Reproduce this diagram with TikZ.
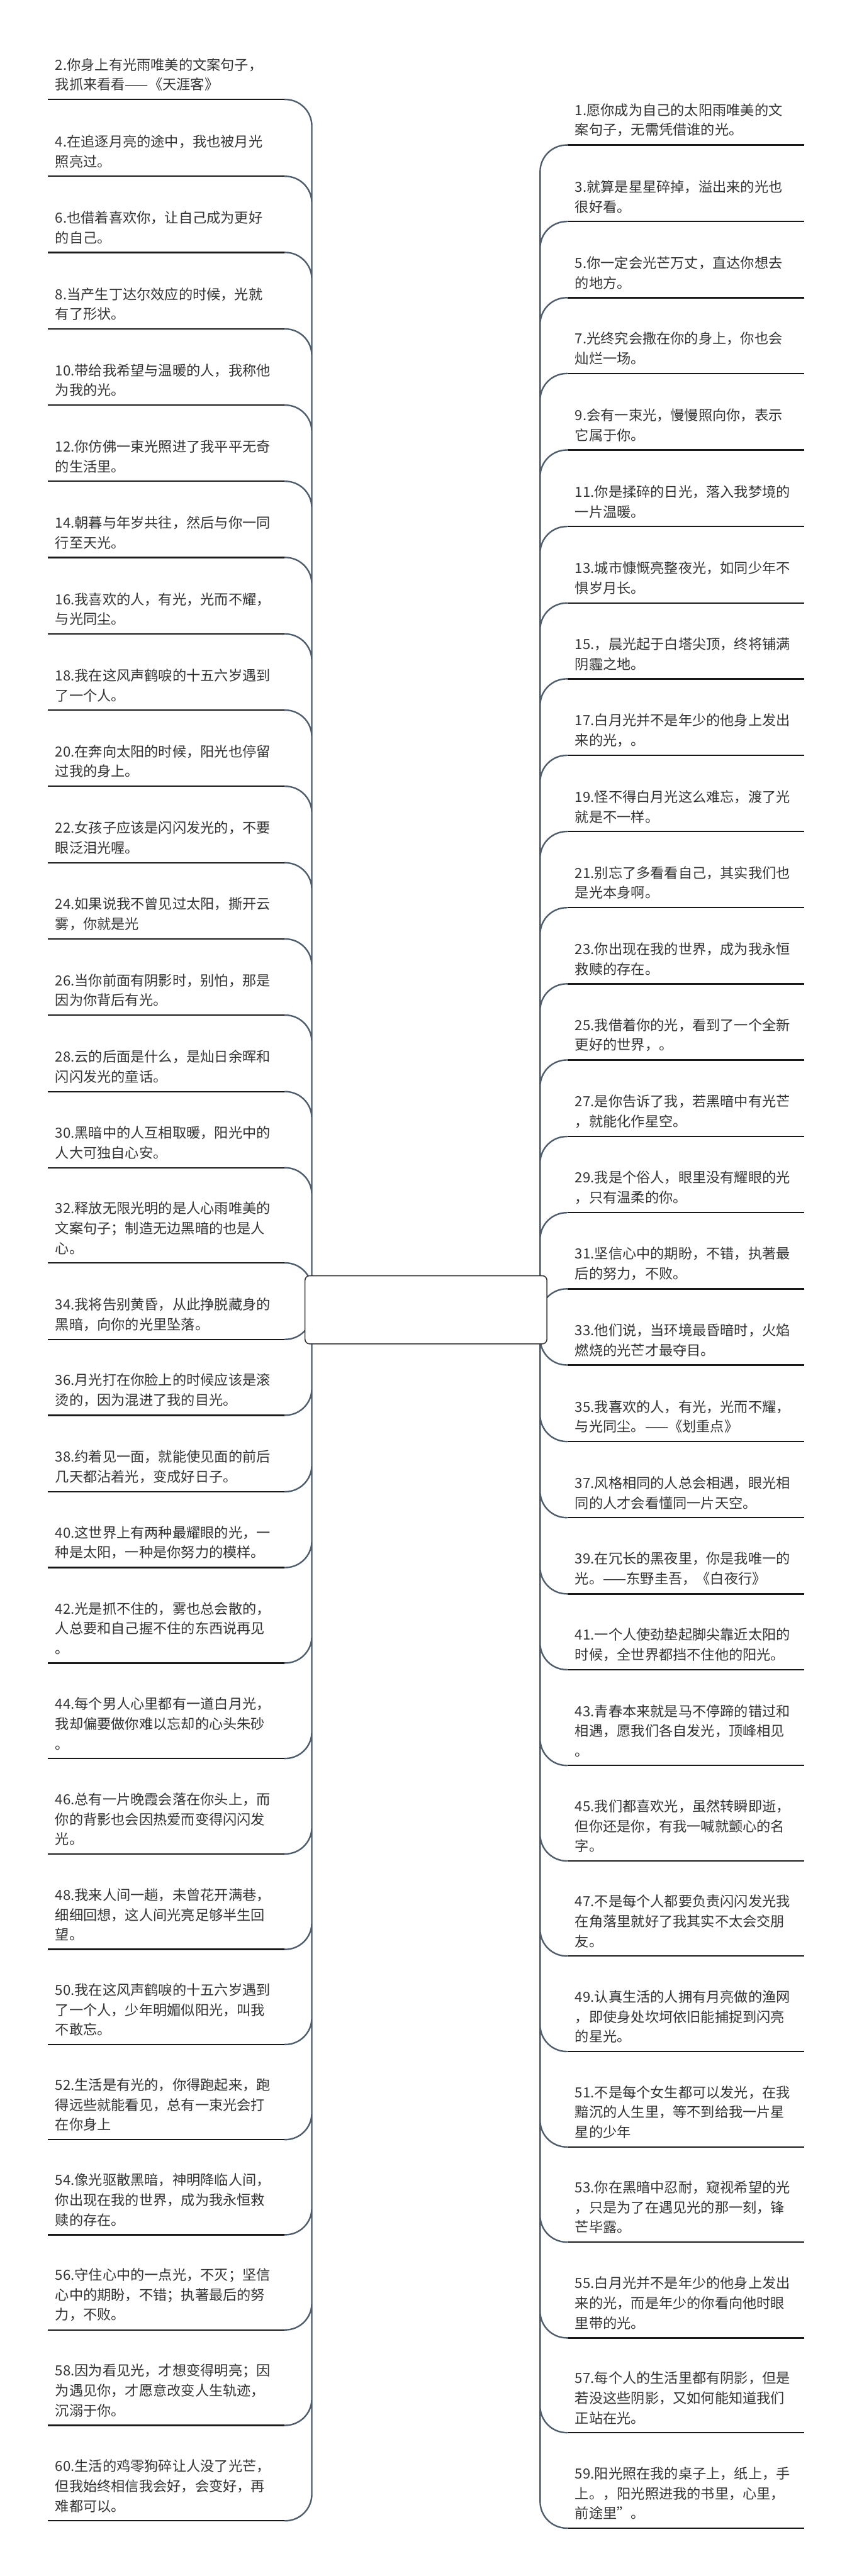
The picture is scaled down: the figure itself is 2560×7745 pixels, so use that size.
\documentclass[tikz,border=0pt]{standalone}
\usepackage{fontspec}
\setmainfont{Noto Sans CJK SC}
\usetikzlibrary{positioning}
\definecolor{linkgray}{HTML}{4E5D6C}
\definecolor{textgray}{HTML}{333333}

\begin{document}
\begin{tikzpicture}[x=1pt, y=-1pt,
    item/.style={anchor=south west, text width=665pt, align=left,
        inner xsep=23pt, inner ysep=25pt, text=textgray,
        font=\fontsize{42}{60}\selectfont},
    uline/.style={line width=4.5pt, draw=black!90},
    link/.style={line width=4.5pt, draw=linkgray, rounded corners=80pt},
    rootbox/.style={draw=textgray, line width=3pt, fill=white, rounded corners=14pt,
        minimum width=727pt, minimum height=205pt}]
                                        \fill[white] (0,0) rectangle (2560,7745);
                                        \useasboundingbox (0,0) rectangle (2560,7745);

                                        % left column
                                        \node[item] (l2) at (143, 299) {2.你身上有光雨唯美的文案句子，\\我抓来看看——《天涯客》};
                                        \node[item] (l4) at (143, 530) {4.在追逐月亮的途中，我也被月光\\照亮过。};
                                        \node[item] (l6) at (143, 759) {6.也借着喜欢你，让自己成为更好\\的自己。};
                                        \node[item] (l8) at (143, 989) {8.当产生丁达尔效应的时候，光就\\有了形状。};
                                        \node[item] (l10) at (143, 1218) {10.带给我希望与温暖的人，我称他\\为我的光。};
                                        \node[item] (l12) at (143, 1447) {12.你仿佛一束光照进了我平平无奇\\的生活里。};
                                        \node[item] (l14) at (143, 1676) {14.朝暮与年岁共往，然后与你一同\\行至天光。};
                                        \node[item] (l16) at (143, 1906) {16.我喜欢的人，有光，光而不耀，\\与光同尘。};
                                        \node[item] (l18) at (143, 2135) {18.我在这风声鹤唳的十五六岁遇到\\了一个人。};
                                        \node[item] (l20) at (143, 2364) {20.在奔向太阳的时候，阳光也停留\\过我的身上。};
                                        \node[item] (l22) at (143, 2594) {22.女孩子应该是闪闪发光的，不要\\眼泛泪光喔。};
                                        \node[item] (l24) at (143, 2823) {24.如果说我不曾见过太阳，撕开云\\雾，你就是光};
                                        \node[item] (l26) at (143, 3052) {26.当你前面有阴影时，别怕，那是\\因为你背后有光。};
                                        \node[item] (l28) at (143, 3282) {28.云的后面是什么，是灿日余晖和\\闪闪发光的童话。};
                                        \node[item] (l30) at (143, 3511) {30.黑暗中的人互相取暖，阳光中的\\人大可独自心安。};
                                        \node[item] (l32) at (143, 3797) {32.释放无限光明的是人心雨唯美的\\文案句子；制造无边黑暗的也是人\\心。};
                                        \node[item] (l34) at (143, 4027) {34.我将告别黄昏，从此挣脱藏身的\\黑暗，向你的光里坠落。};
                                        \node[item] (l36) at (143, 4255) {36.月光打在你脸上的时候应该是滚\\烫的，因为混进了我的目光。};
                                        \node[item] (l38) at (143, 4485) {38.约着见一面，就能使见面的前后\\几天都沾着光，变成好日子。};
                                        \node[item] (l40) at (143, 4713) {40.这世界上有两种最耀眼的光，一\\种是太阳，一种是你努力的模样。};
                                        \node[item] (l42) at (143, 5000) {42.光是抓不住的，雾也总会散的，\\人总要和自己握不住的东西说再见\\。};
                                        \node[item] (l44) at (143, 5287) {44.每个男人心里都有一道白月光，\\我却偏要做你难以忘却的心头朱砂\\。};
                                        \node[item] (l46) at (143, 5574) {46.总有一片晚霞会落在你头上，而\\你的背影也会因热爱而变得闪闪发\\光。};
                                        \node[item] (l48) at (143, 5861) {48.我来人间一趟，未曾花开满巷，\\细细回想，这人间光亮足够半生回\\望。};
                                        \node[item] (l50) at (143, 6147) {50.我在这风声鹤唳的十五六岁遇到\\了一个人，少年明媚似阳光，叫我\\不敢忘。};
                                        \node[item] (l52) at (143, 6433) {52.生活是有光的，你得跑起来，跑\\得远些就能看见，总有一束光会打\\在你身上};
                                        \node[item] (l54) at (143, 6719) {54.像光驱散黑暗，神明降临人间，\\你出现在我的世界，成为我永恒救\\赎的存在。};
                                        \node[item] (l56) at (143, 7005) {56.守住心中的一点光，不灭；坚信\\心中的期盼，不错；执著最后的努\\力，不败。};
                                        \node[item] (l58) at (143, 7292) {58.因为看见光，才想变得明亮；因\\为遇见你，才愿意改变人生轨迹，\\沉溺于你。};
                                        \node[item] (l60) at (143, 7579) {60.生活的鸡零狗碎让人没了光芒，\\但我始终相信我会好，会变好，再\\难都可以。};

                                        % right column
                                        \node[item] (r1) at (1705, 436) {1.愿你成为自己的太阳雨唯美的文\\案句子，无需凭借谁的光。};
                                        \node[item] (r3) at (1705, 666) {3.就算是星星碎掉，溢出来的光也\\很好看。};
                                        \node[item] (r5) at (1705, 895) {5.你一定会光芒万丈，直达你想去\\的地方。};
                                        \node[item] (r7) at (1705, 1123) {7.光终究会撒在你的身上，你也会\\灿烂一场。};
                                        \node[item] (r9) at (1705, 1353) {9.会有一束光，慢慢照向你，表示\\它属于你。};
                                        \node[item] (r11) at (1705, 1583) {11.你是揉碎的日光，落入我梦境的\\一片温暖。};
                                        \node[item] (r13) at (1705, 1813) {13.城市慷慨亮整夜光，如同少年不\\惧岁月长。};
                                        \node[item] (r15) at (1705, 2041) {15.，晨光起于白塔尖顶，终将铺满\\阴霾之地。};
                                        \node[item] (r17) at (1705, 2271) {17.白月光并不是年少的他身上发出\\来的光，。};
                                        \node[item] (r19) at (1705, 2500) {19.怪不得白月光这么难忘，渡了光\\就是不一样。};
                                        \node[item] (r21) at (1705, 2729) {21.别忘了多看看自己，其实我们也\\是光本身啊。};
                                        \node[item] (r23) at (1705, 2958) {23.你出现在我的世界，成为我永恒\\救赎的存在。};
                                        \node[item] (r25) at (1705, 3187) {25.我借着你的光，看到了一个全新\\更好的世界，。};
                                        \node[item] (r27) at (1705, 3417) {27.是你告诉了我，若黑暗中有光芒\\，就能化作星空。};
                                        \node[item] (r29) at (1705, 3646) {29.我是个俗人，眼里没有耀眼的光\\，只有温柔的你。};
                                        \node[item] (r31) at (1705, 3875) {31.坚信心中的期盼，不错，执著最\\后的努力，不败。};
                                        \node[item] (r33) at (1705, 4104) {33.他们说，当环境最昏暗时，火焰\\燃烧的光芒才最夺目。};
                                        \node[item] (r35) at (1705, 4334) {35.我喜欢的人，有光，光而不耀，\\与光同尘。——《划重点》};
                                        \node[item] (r37) at (1705, 4563) {37.风格相同的人总会相遇，眼光相\\同的人才会看懂同一片天空。};
                                        \node[item] (r39) at (1705, 4792) {39.在冗长的黑夜里，你是我唯一的\\光。——东野圭吾，《白夜行》};
                                        \node[item] (r41) at (1705, 5020) {41.一个人使劲垫起脚尖靠近太阳的\\时候，全世界都挡不住他的阳光。};
                                        \node[item] (r43) at (1705, 5308) {43.青春本来就是马不停蹄的错过和\\相遇，愿我们各自发光，顶峰相见\\。};
                                        \node[item] (r45) at (1705, 5595) {45.我们都喜欢光，虽然转瞬即逝，\\但你还是你，有我一喊就颤心的名\\字。};
                                        \node[item] (r47) at (1705, 5881) {47.不是每个人都要负责闪闪发光我\\在角落里就好了我其实不太会交朋\\友。};
                                        \node[item] (r49) at (1705, 6168) {49.认真生活的人拥有月亮做的渔网\\，即使身处坎坷依旧能捕捉到闪亮\\的星光。};
                                        \node[item] (r51) at (1705, 6455) {51.不是每个女生都可以发光，在我\\黯沉的人生里，等不到给我一片星\\星的少年};
                                        \node[item] (r53) at (1705, 6741) {53.你在黑暗中忍耐，窥视希望的光\\，只是为了在遇见光的那一刻，锋\\芒毕露。};
                                        \node[item] (r55) at (1705, 7029) {55.白月光并不是年少的他身上发出\\来的光，而是年少的你看向他时眼\\里带的光。};
                                        \node[item] (r57) at (1705, 7314) {57.每个人的生活里都有阴影，但是\\若没这些阴影，又如何能知道我们\\正站在光。};
                                        \node[item] (r59) at (1705, 7601) {59.阳光照在我的桌子上，纸上，手\\上。，阳光照进我的书里，心里，\\前途里"。};

                                        \coordinate (ltrunk) at (937, 3938);
                                        \coordinate (rtrunk) at (1623, 3938);

                                        \draw[link]
                                        (l2.south east) -| (ltrunk) (l4.south east) -| (ltrunk)
                                        (l6.south east) -| (ltrunk) (l8.south east) -| (ltrunk)
                                        (l10.south east) -| (ltrunk) (l12.south east) -| (ltrunk)
                                        (l14.south east) -| (ltrunk) (l16.south east) -| (ltrunk)
                                        (l18.south east) -| (ltrunk) (l20.south east) -| (ltrunk)
                                        (l22.south east) -| (ltrunk) (l24.south east) -| (ltrunk)
                                        (l26.south east) -| (ltrunk) (l28.south east) -| (ltrunk)
                                        (l30.south east) -| (ltrunk) (l32.south east) -| (ltrunk)
                                        (l34.south east) -| (ltrunk) (l36.south east) -| (ltrunk)
                                        (l38.south east) -| (ltrunk) (l40.south east) -| (ltrunk)
                                        (l42.south east) -| (ltrunk) (l44.south east) -| (ltrunk)
                                        (l46.south east) -| (ltrunk) (l48.south east) -| (ltrunk)
                                        (l50.south east) -| (ltrunk) (l52.south east) -| (ltrunk)
                                        (l54.south east) -| (ltrunk) (l56.south east) -| (ltrunk)
                                        (l58.south east) -| (ltrunk) (l60.south east) -| (ltrunk);

                                        \draw[link]
                                        (r1.south west) -| (rtrunk) (r3.south west) -| (rtrunk)
                                        (r5.south west) -| (rtrunk) (r7.south west) -| (rtrunk)
                                        (r9.south west) -| (rtrunk) (r11.south west) -| (rtrunk)
                                        (r13.south west) -| (rtrunk) (r15.south west) -| (rtrunk)
                                        (r17.south west) -| (rtrunk) (r19.south west) -| (rtrunk)
                                        (r21.south west) -| (rtrunk) (r23.south west) -| (rtrunk)
                                        (r25.south west) -| (rtrunk) (r27.south west) -| (rtrunk)
                                        (r29.south west) -| (rtrunk) (r31.south west) -| (rtrunk)
                                        (r33.south west) -| (rtrunk) (r35.south west) -| (rtrunk)
                                        (r37.south west) -| (rtrunk) (r39.south west) -| (rtrunk)
                                        (r41.south west) -| (rtrunk) (r43.south west) -| (rtrunk)
                                        (r45.south west) -| (rtrunk) (r47.south west) -| (rtrunk)
                                        (r49.south west) -| (rtrunk) (r51.south west) -| (rtrunk)
                                        (r53.south west) -| (rtrunk) (r55.south west) -| (rtrunk)
                                        (r57.south west) -| (rtrunk) (r59.south west) -| (rtrunk);

                                        \draw[uline]
                                        (l2.south west) -- (l2.south east) (l4.south west) -- (l4.south east)
                                        (l6.south west) -- (l6.south east) (l8.south west) -- (l8.south east)
                                        (l10.south west) -- (l10.south east) (l12.south west) -- (l12.south east)
                                        (l14.south west) -- (l14.south east) (l16.south west) -- (l16.south east)
                                        (l18.south west) -- (l18.south east) (l20.south west) -- (l20.south east)
                                        (l22.south west) -- (l22.south east) (l24.south west) -- (l24.south east)
                                        (l26.south west) -- (l26.south east) (l28.south west) -- (l28.south east)
                                        (l30.south west) -- (l30.south east) (l32.south west) -- (l32.south east)
                                        (l34.south west) -- (l34.south east) (l36.south west) -- (l36.south east)
                                        (l38.south west) -- (l38.south east) (l40.south west) -- (l40.south east)
                                        (l42.south west) -- (l42.south east) (l44.south west) -- (l44.south east)
                                        (l46.south west) -- (l46.south east) (l48.south west) -- (l48.south east)
                                        (l50.south west) -- (l50.south east) (l52.south west) -- (l52.south east)
                                        (l54.south west) -- (l54.south east) (l56.south west) -- (l56.south east)
                                        (l58.south west) -- (l58.south east) (l60.south west) -- (l60.south east)
                                        (r1.south west) -- (r1.south east) (r3.south west) -- (r3.south east)
                                        (r5.south west) -- (r5.south east) (r7.south west) -- (r7.south east)
                                        (r9.south west) -- (r9.south east) (r11.south west) -- (r11.south east)
                                        (r13.south west) -- (r13.south east) (r15.south west) -- (r15.south east)
                                        (r17.south west) -- (r17.south east) (r19.south west) -- (r19.south east)
                                        (r21.south west) -- (r21.south east) (r23.south west) -- (r23.south east)
                                        (r25.south west) -- (r25.south east) (r27.south west) -- (r27.south east)
                                        (r29.south west) -- (r29.south east) (r31.south west) -- (r31.south east)
                                        (r33.south west) -- (r33.south east) (r35.south west) -- (r35.south east)
                                        (r37.south west) -- (r37.south east) (r39.south west) -- (r39.south east)
                                        (r41.south west) -- (r41.south east) (r43.south west) -- (r43.south east)
                                        (r45.south west) -- (r45.south east) (r47.south west) -- (r47.south east)
                                        (r49.south west) -- (r49.south east) (r51.south west) -- (r51.south east)
                                        (r53.south west) -- (r53.south east) (r55.south west) -- (r55.south east)
                                        (r57.south west) -- (r57.south east) (r59.south west) -- (r59.south east);

                                        \node[rootbox] (root) at (1280, 3938) {};
                                    \end{tikzpicture}
\end{document}
